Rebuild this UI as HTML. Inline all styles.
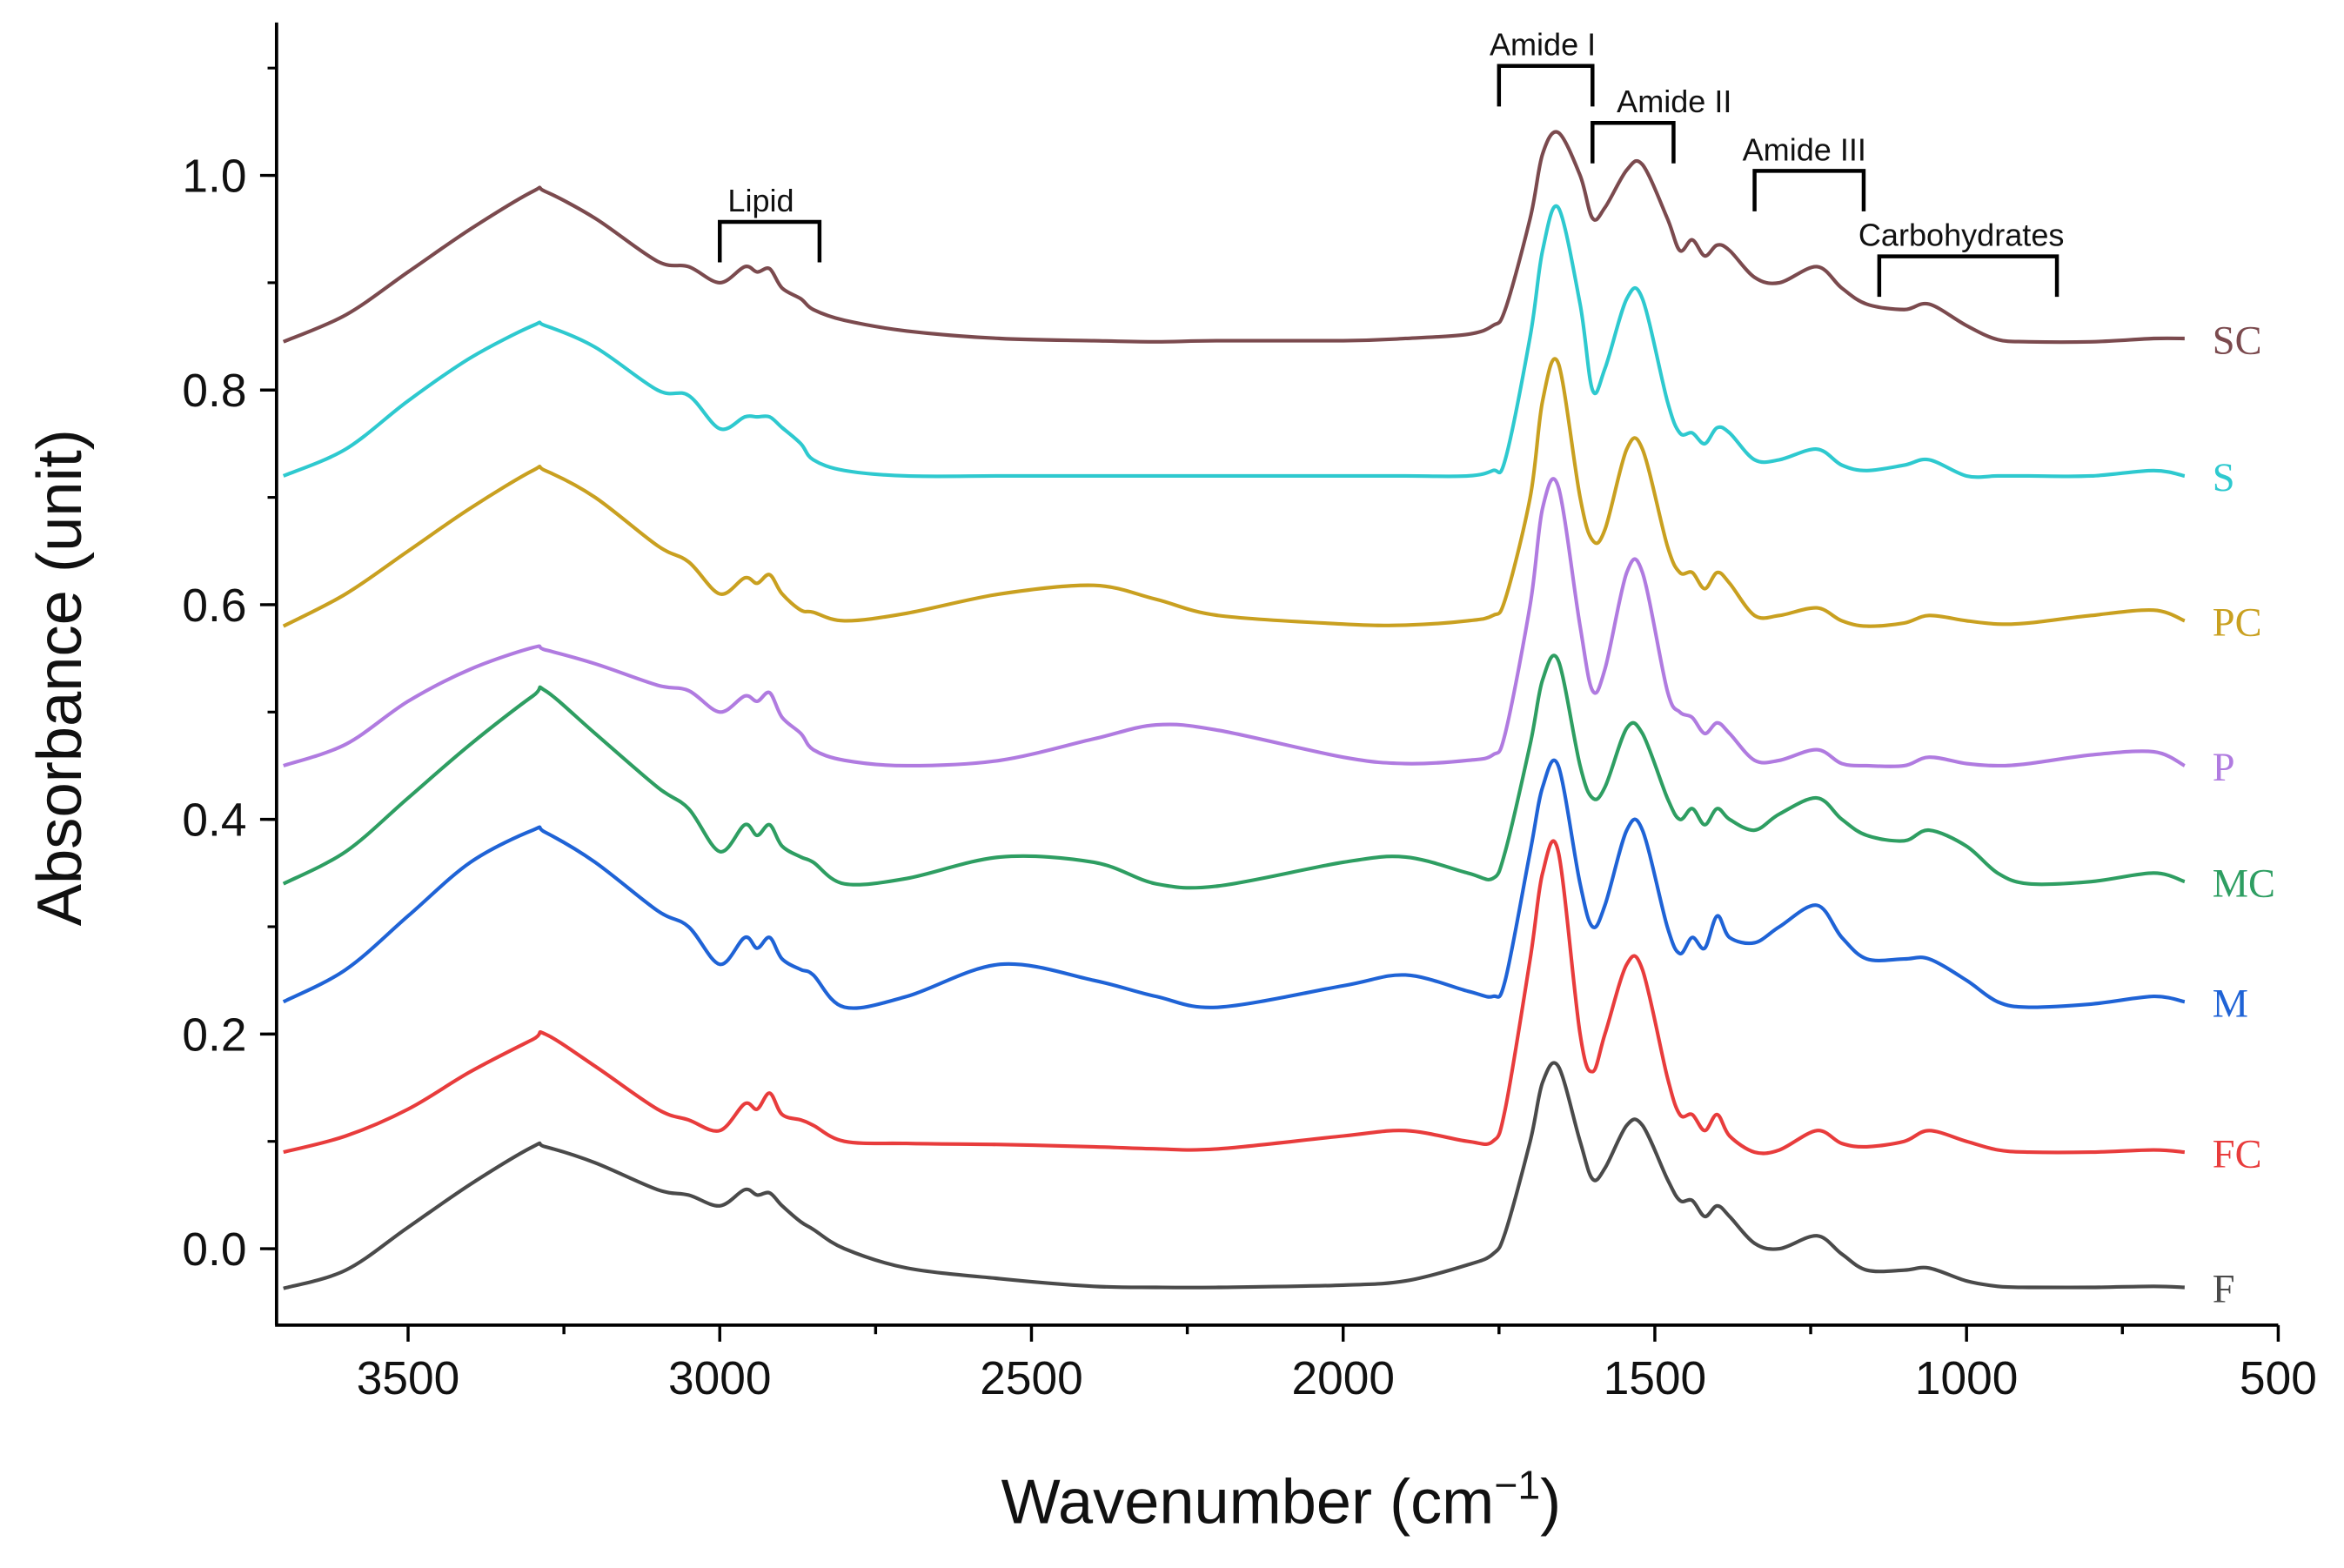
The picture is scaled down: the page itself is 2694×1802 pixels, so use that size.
<!DOCTYPE html>
<html><head><meta charset="utf-8"><style>
html,body{margin:0;padding:0;background:#fff;}
svg{display:block;}
</style></head><body>
<svg id="chart" width="2694" height="1802" viewBox="0 0 1568 1046" preserveAspectRatio="none" xmlns="http://www.w3.org/2000/svg" font-family="Liberation Sans, sans-serif">
<rect width="1568" height="1046" fill="#fff"/>
<g id="axes"></g>
<g id="series"></g>
<g id="labels"></g>
<g id="annot"></g>
</svg>
<script>
const wavenumbers=[3700,3600,3500,3400,3300,3280,3200,3100,3050,3000,2960,2940,2920,2900,2870,2850,2800,2700,2550,2400,2300,2200,2000,1900,1800,1760,1740,1700,1680,1655,1620,1600,1580,1545,1520,1480,1460,1440,1420,1400,1380,1340,1300,1240,1200,1160,1100,1060,1000,950,900,800,700,650];
const seriesNames=["SC","S","PC","P","MC","M","FC","F"];
const seriesColors=["#7b4a4e","#2ec9cf","#c9a020","#b07be0","#2e9e62","#1f63d6","#e83c3c","#4a4a4a"];
const valuesSC=[0.845,0.87,0.91,0.95,0.985,0.985,0.96,0.92,0.915,0.90,0.915,0.91,0.913,0.895,0.885,0.875,0.865,0.855,0.848,0.846,0.845,0.846,0.846,0.848,0.852,0.86,0.875,0.96,1.02,1.04,1.0,0.96,0.97,1.005,1.01,0.96,0.93,0.94,0.925,0.935,0.93,0.905,0.9,0.915,0.895,0.88,0.875,0.88,0.86,0.847,0.845,0.845,0.848,0.848];
const valuesS=[0.72,0.745,0.79,0.83,0.86,0.86,0.84,0.80,0.795,0.764,0.775,0.775,0.775,0.765,0.75,0.735,0.725,0.72,0.72,0.72,0.72,0.72,0.72,0.72,0.72,0.725,0.735,0.85,0.93,0.97,0.88,0.80,0.82,0.885,0.885,0.79,0.76,0.76,0.75,0.765,0.76,0.735,0.735,0.745,0.73,0.725,0.73,0.735,0.72,0.72,0.72,0.72,0.725,0.72];
const valuesPC=[0.58,0.61,0.65,0.69,0.725,0.725,0.70,0.655,0.64,0.61,0.625,0.62,0.628,0.61,0.595,0.593,0.585,0.592,0.61,0.618,0.605,0.59,0.582,0.581,0.585,0.59,0.605,0.70,0.79,0.825,0.70,0.66,0.67,0.745,0.745,0.655,0.63,0.63,0.615,0.63,0.62,0.59,0.59,0.597,0.585,0.58,0.583,0.59,0.585,0.582,0.583,0.59,0.595,0.585];
const valuesP=[0.45,0.47,0.51,0.54,0.56,0.558,0.545,0.525,0.52,0.50,0.515,0.51,0.518,0.495,0.48,0.465,0.455,0.45,0.455,0.475,0.488,0.483,0.458,0.452,0.455,0.46,0.48,0.6,0.69,0.71,0.58,0.52,0.54,0.63,0.63,0.52,0.5,0.495,0.48,0.49,0.48,0.455,0.455,0.465,0.452,0.45,0.45,0.458,0.452,0.45,0.452,0.46,0.463,0.45];
const valuesMC=[0.34,0.37,0.42,0.47,0.515,0.52,0.48,0.43,0.41,0.37,0.395,0.385,0.395,0.375,0.365,0.36,0.34,0.345,0.365,0.36,0.34,0.338,0.36,0.365,0.35,0.345,0.37,0.47,0.53,0.548,0.45,0.42,0.43,0.485,0.48,0.42,0.4,0.41,0.395,0.41,0.4,0.39,0.405,0.42,0.4,0.385,0.38,0.39,0.375,0.35,0.34,0.342,0.35,0.342];
const valuesM=[0.23,0.26,0.31,0.36,0.39,0.388,0.36,0.315,0.30,0.265,0.29,0.28,0.29,0.27,0.26,0.255,0.225,0.235,0.265,0.25,0.235,0.225,0.245,0.255,0.24,0.235,0.25,0.37,0.43,0.45,0.34,0.30,0.32,0.39,0.39,0.30,0.275,0.29,0.28,0.31,0.29,0.285,0.3,0.32,0.29,0.27,0.27,0.27,0.25,0.23,0.225,0.228,0.235,0.23];
const valuesFC=[0.09,0.105,0.13,0.165,0.195,0.2,0.17,0.13,0.12,0.11,0.135,0.13,0.145,0.125,0.12,0.115,0.10,0.098,0.097,0.095,0.093,0.093,0.105,0.11,0.1,0.1,0.13,0.27,0.35,0.37,0.2,0.165,0.2,0.265,0.26,0.16,0.125,0.125,0.11,0.125,0.105,0.09,0.092,0.11,0.098,0.095,0.1,0.11,0.1,0.092,0.09,0.09,0.092,0.09];
const valuesF=[-0.037,-0.02,0.02,0.06,0.095,0.095,0.08,0.055,0.05,0.04,0.055,0.05,0.052,0.04,0.025,0.018,0.0,-0.018,-0.028,-0.035,-0.036,-0.036,-0.034,-0.03,-0.015,-0.005,0.015,0.1,0.155,0.17,0.1,0.065,0.075,0.115,0.115,0.065,0.045,0.045,0.03,0.04,0.03,0.005,0.0,0.012,-0.005,-0.02,-0.02,-0.018,-0.03,-0.035,-0.036,-0.036,-0.035,-0.036];
const seriesValues=[valuesSC,valuesS,valuesPC,valuesP,valuesMC,valuesM,valuesFC,valuesF];
const xTicks=[3500,3000,2500,2000,1500,1000,500];
const yTicks=[0.0,0.2,0.4,0.6,0.8,1.0];
const bands=["Lipid","Amide I","Amide II","Amide III","Carbohydrates"];
const bandStart=[3000,1750,1600,1340,1140];
const bandEnd=[2840,1600,1470,1165,855];

const NS="http://www.w3.org/2000/svg";
const L=185,R=1524,T=15,B=884;
const xMin=3711,xMax=500,y0px=833,yPerUnit=716;
const X=v=>L+(xMin-v)/(xMin-xMax)*(R-L);
const Y=v=>y0px-v*yPerUnit;
function mk(tag,attrs,parent){const e=document.createElementNS(NS,tag);for(const k in attrs)e.setAttribute(k,attrs[k]);parent.appendChild(e);return e;}
const axes=document.getElementById('axes');
let a=mk('line',{x1:L,y1:T,x2:L,y2:B,stroke:'#000','stroke-width':2.2},axes);


a=mk('line',{x1:L-1,y1:B,x2:R,y2:B,stroke:'#000','stroke-width':2.2},axes);


for(let k=0;k<=11;k++){const v=k/10;const y=Y(v);if(y<T||y>B)continue;mk('line',{x1:L-6,y1:y,x2:L,y2:y,stroke:'#000','stroke-width':1.8},axes);}
yTicks.forEach(v=>{const y=Y(v);mk('line',{x1:L-11,y1:y,x2:L,y2:y,stroke:'#000','stroke-width':2},axes);
const t=mk('text',{x:L-20,y:y+11,'text-anchor':'end','font-size':31,fill:'#111'},axes);t.textContent=v.toFixed(1);

});
for(let v=3500;v>=500;v-=250){const x=X(v);mk('line',{x1:x,y1:B,x2:x,y2:B+(v%500?6:11),stroke:'#000','stroke-width':2},axes);}
xTicks.forEach(v=>{const t=mk('text',{x:X(v),y:B+46,'text-anchor':'middle','font-size':31,fill:'#111'},axes);t.textContent=v;

});
let t=mk('text',{x:857,y:1016,'text-anchor':'middle','font-size':42,fill:'#111'},axes);
t.innerHTML='Wavenumber (cm<tspan dy="-16" font-size="27">−1</tspan><tspan dy="16">)</tspan>';


t=mk('text',{x:54,y:452,'text-anchor':'middle','font-size':42,fill:'#111',transform:'rotate(-90 54 452)'},axes);
t.textContent='Absorbance (unit)';



function smooth(pts){let d=`M${pts[0][0]},${pts[0][1]}`;for(let i=0;i<pts.length-1;i++){const p0=pts[i-1]||pts[i],p1=pts[i],p2=pts[i+1],p3=pts[i+2]||p2;
const c1=[p1[0]+(p2[0]-p0[0])/6,p1[1]+(p2[1]-p0[1])/6],c2=[p2[0]-(p3[0]-p1[0])/6,p2[1]-(p3[1]-p1[1])/6];
d+=`C${c1[0].toFixed(1)},${c1[1].toFixed(1)} ${c2[0].toFixed(1)},${c2[1].toFixed(1)} ${p2[0].toFixed(1)},${p2[1].toFixed(1)}`;}return d;}
const sg=document.getElementById('series'),lg=document.getElementById('labels');
seriesValues.forEach((vals,i)=>{const pts=wavenumbers.map((w,j)=>[X(w),Y(vals[j])]);
const p=mk('path',{d:smooth(pts),fill:'none',stroke:seriesColors[i],'stroke-width':2.4,'stroke-linejoin':'round'},sg);


const last=vals[vals.length-1];
const lt=mk('text',{x:1480,y:Y(last)+10,'font-size':27,fill:seriesColors[i],'font-family':'Liberation Serif, serif'},lg);lt.textContent=seriesNames[i];

});

const ag=document.getElementById('annot');
const bandTop=[148,44,82,114,171];
const textX=[509,1032,1120,1207,1312];
bands.forEach((b,i)=>{const x1=X(bandStart[i]),x2=X(bandEnd[i]),y=bandTop[i];
const pl=mk('polyline',{points:`${x1},${y+27} ${x1},${y} ${x2},${y} ${x2},${y+27}`,fill:'none',stroke:'#000','stroke-width':2.6},ag);


const tx=mk('text',{x:textX[i],y:y-7,'text-anchor':'middle','font-size':21,fill:'#111'},ag);tx.textContent=b;

});
</script>
</body></html>
